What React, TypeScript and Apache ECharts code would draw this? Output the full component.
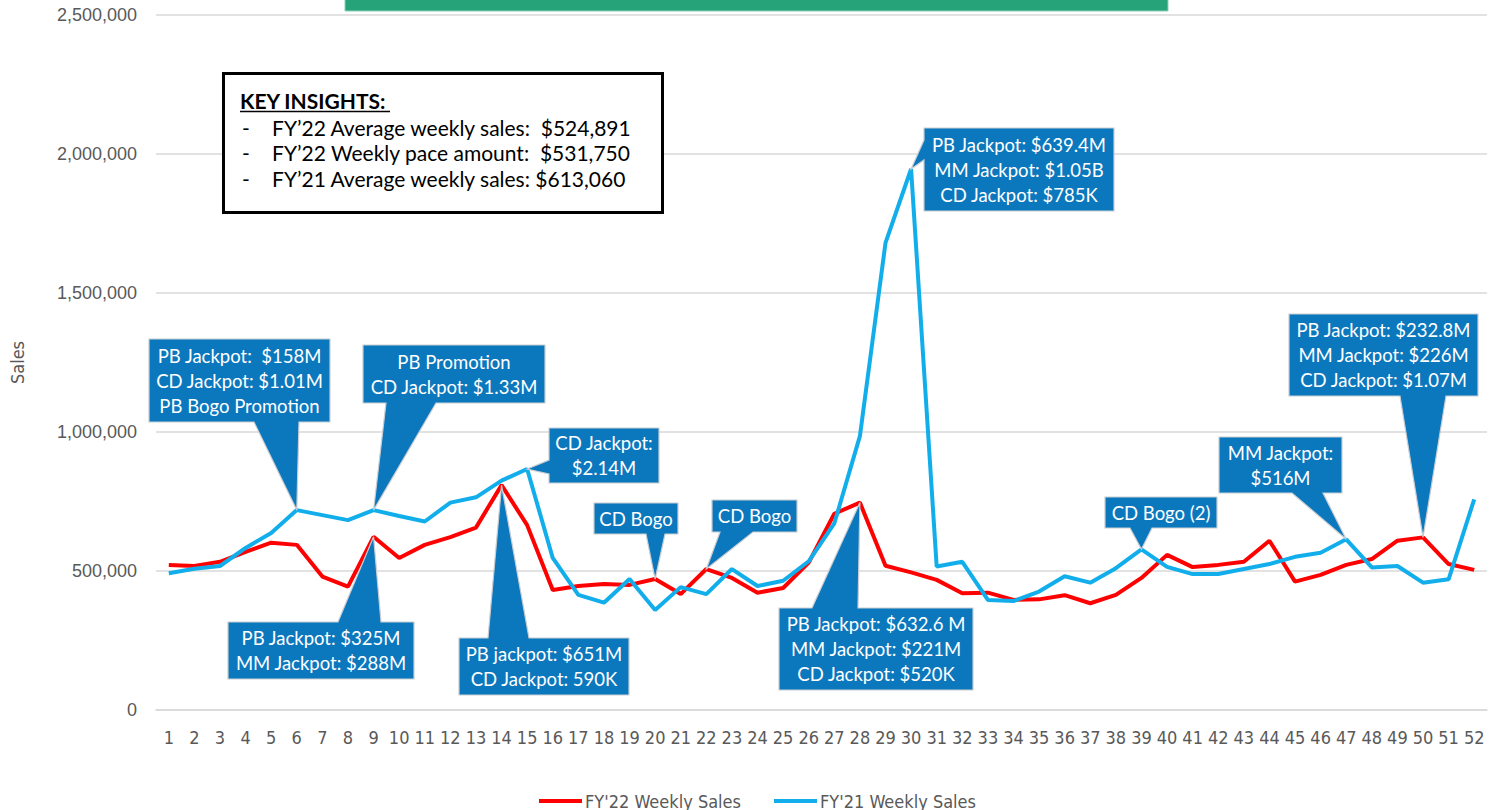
import React, { useEffect, useRef } from "react";
import * as echarts from "echarts";

// ---------- data ----------
const weeks = [
  "1", "2", "3", "4", "5", "6", "7", "8", "9", "10", "11", "12", "13",
  "14", "15", "16", "17", "18", "19", "20", "21", "22", "23", "24", "25", "26",
  "27", "28", "29", "30", "31", "32", "33", "34", "35", "36", "37", "38", "39",
  "40", "41", "42", "43", "44", "45", "46", "47", "48", "49", "50", "51", "52",
];

const fy22Sales = [
  522000, 518000, 533000, 569000, 602000, 594000, 480000, 444000, 623000, 547000,
  594000, 622000, 656000, 809000, 665000, 432000, 446000, 453000, 450000, 471000,
  417000, 507000, 475000, 422000, 439000, 530000, 706000, 746000, 519000, 495000,
  468000, 420000, 422000, 396000, 398000, 413000, 384000, 414000, 475000, 558000,
  514000, 522000, 533000, 609000, 462000, 486000, 522000, 543000, 609000, 621000,
  525000, 504000,
];

const fy21Sales = [
  492000, 508000, 518000, 583000, 637000, 719000, 701000, 683000, 719000, 698000,
  678000, 746000, 765000, 825000, 867000, 547000, 414000, 386000, 471000, 360000,
  442000, 417000, 507000, 446000, 465000, 535000, 671000, 985000, 1680000, 1946000,
  516000, 533000, 396000, 392000, 426000, 481000, 458000, 510000, 578000, 515000,
  489000, 489000, 507000, 525000, 551000, 566000, 614000, 513000, 518000, 458000,
  470000, 758000,
];

const seriesNames = ["FY'22 Weekly Sales", "FY'21 Weekly Sales"];

const insightTitle = "KEY INSIGHTS:";
const insightLines = [
  "FY\u201922 Average weekly sales:  $524,891",
  "FY\u201922 Weekly pace amount:  $531,750",
  "FY\u201921 Average weekly sales: $613,060",
];

// callout texts and the data point each one points to (series index, week)
const calloutTexts = [
  ["PB Jackpot:  $158M", "CD Jackpot: $1.01M", "PB Bogo Promotion"],
  ["PB Promotion", "CD Jackpot: $1.33M"],
  ["CD Jackpot:", "$2.14M"],
  ["CD Bogo"],
  ["CD Bogo"],
  ["PB Jackpot: $325M", "MM Jackpot: $288M"],
  ["PB jackpot: $651M", "CD Jackpot: 590K"],
  ["PB Jackpot: $632.6 M", "MM Jackpot: $221M", "CD Jackpot: $520K"],
  ["PB Jackpot: $639.4M", "MM Jackpot: $1.05B", "CD Jackpot: $785K"],
  ["CD Bogo (2)"],
  ["MM Jackpot:", "$516M"],
  ["PB Jackpot: $232.8M", "MM Jackpot: $226M", "CD Jackpot: $1.07M"],
];
const calloutAnchors: [number, number][] = [
  [1, 6], [1, 9], [1, 15], [0, 20], [0, 22], [0, 9], [0, 14], [0, 28], [1, 30], [1, 39], [1, 47], [0, 50],
];

// ---------- layout (pixels) ----------
type Box = { x1: number; y1: number; x2: number; y2: number; edge: "top" | "bottom" | "left"; b1: number; b2: number };
const calloutBoxes: Box[] = [
  { x1: 149, y1: 339, x2: 330, y2: 422, edge: "bottom", b1: 254, b2: 299 },
  { x1: 363, y1: 345, x2: 545, y2: 403, edge: "bottom", b1: 386, b2: 436 },
  { x1: 549, y1: 428, x2: 659, y2: 483, edge: "left", b1: 460, b2: 474 },
  { x1: 594, y1: 503, x2: 678, y2: 534, edge: "bottom", b1: 646, b2: 665 },
  { x1: 712, y1: 500, x2: 797, y2: 532, edge: "bottom", b1: 720, b2: 753 },
  { x1: 228, y1: 622, x2: 414, y2: 679, edge: "top", b1: 338, b2: 381 },
  { x1: 459, y1: 638, x2: 629, y2: 695, edge: "top", b1: 488, b2: 529 },
  { x1: 779, y1: 608, x2: 973, y2: 690, edge: "top", b1: 812, b2: 858 },
  { x1: 924, y1: 128, x2: 1114, y2: 211, edge: "left", b1: 140, b2: 160 },
  { x1: 1105, y1: 497, x2: 1217, y2: 528, edge: "bottom", b1: 1130, b2: 1152 },
  { x1: 1219, y1: 437, x2: 1342, y2: 493, edge: "bottom", b1: 1292, b2: 1323 },
  { x1: 1289, y1: 314, x2: 1478, y2: 396, edge: "bottom", b1: 1400, b2: 1446 },
];

const CALLOUT_FILL = "#0B78BE";
const CALLOUT_STROKE = "#C9CDD2";
const AXIS_TEXT = "#595959";
const NARROW = "'Liberation Sans Narrow', 'DejaVu Sans Condensed', 'Roboto Condensed', Roboto, sans-serif";
const BOX_FONT = "Lato, 'Open Sans', sans-serif";

function calloutPoints(b: Box, tx: number, ty: number): number[][] {
  const { x1, y1, x2, y2, edge, b1, b2 } = b;
  if (edge === "bottom") {
    return [[x1, y1], [x2, y1], [x2, y2], [b2, y2], [tx, ty], [b1, y2], [x1, y2]];
  }
  if (edge === "top") {
    return [[x1, y1], [b1, y1], [tx, ty], [b2, y1], [x2, y1], [x2, y2], [x1, y2]];
  }
  return [[x1, y1], [x2, y1], [x2, y2], [x1, y2], [x1, b2], [tx, ty], [x1, b1]];
}

export default function App() {
  const ref = useRef<HTMLDivElement>(null);

  useEffect(() => {
    if (!ref.current) return;
    const chart = echarts.init(ref.current, undefined, { renderer: "svg" });
    const allData = [fy22Sales, fy21Sales];

    chart.setOption({
      animation: false,
      backgroundColor: "#ffffff",
      grid: { left: 155, right: 11, top: 15, bottom: 100, containLabel: false },
      legend: {
        data: seriesNames,
        left: 534,
        top: 787,
        icon: "rect",
        itemWidth: 43,
        itemHeight: 4,
        itemGap: 33,
        textStyle: { color: AXIS_TEXT, fontSize: 18, fontFamily: NARROW, padding: [0, 0, 0, -2] },
      },
      xAxis: {
        type: "category",
        data: weeks,
        boundaryGap: true,
        axisLine: { show: true, lineStyle: { color: "#D9D9D9", width: 1.5 } },
        axisTick: { show: false },
        axisLabel: { interval: 0, color: AXIS_TEXT, fontSize: 18, fontFamily: NARROW, margin: 18 },
      },
      yAxis: {
        type: "value",
        min: 0,
        max: 2500000,
        interval: 500000,
        name: "Sales",
        nameLocation: "middle",
        nameGap: 130,
        nameRotate: 90,
        nameTextStyle: { color: AXIS_TEXT, fontSize: 18, fontFamily: NARROW },
        axisLine: { show: false },
        axisTick: { show: false },
        splitLine: { lineStyle: { color: "#D9D9D9", width: 1.5 } },
        axisLabel: {
          color: AXIS_TEXT,
          fontSize: 18,
          fontFamily: "'Liberation Sans', Arial, sans-serif",
          margin: 19,
          formatter: (v: number) => v.toLocaleString("en-US"),
        },
      },
      series: [
        {
          name: seriesNames[0],
          type: "line",
          data: fy22Sales,
          symbol: "none",
          lineStyle: { color: "#FF0000", width: 4 },
          itemStyle: { color: "#FF0000" },
          z: 2,
        },
        {
          name: seriesNames[1],
          type: "line",
          data: fy21Sales,
          symbol: "none",
          lineStyle: { color: "#12AEEB", width: 4 },
          itemStyle: { color: "#12AEEB" },
          z: 3,
        },
      ],
    });

    const graphics: any[] = [];

    // title banner (cut off at top of page)
    graphics.push({
      type: "rect",
      shape: { x: 345, y: -40, width: 823, height: 51 },
      style: { fill: "#27A37A", stroke: "#8FD0B8", lineWidth: 1 },
      z: 10,
    });

    // key insights box
    graphics.push({
      type: "rect",
      shape: { x: 223.5, y: 73.5, width: 439, height: 139 },
      style: { fill: "#ffffff", stroke: "#000000", lineWidth: 3 },
      z: 10,
    });
    graphics.push({
      type: "text",
      x: 240,
      y: 100,
      style: {
        text: insightTitle,
        fill: "#000",
        font: "bold 21px " + BOX_FONT,
        verticalAlign: "middle",
        align: "left",
      },
      z: 11,
    });
    graphics.push({
      type: "line",
      shape: { x1: 240, y1: 111.5, x2: 390, y2: 111.5 },
      style: { stroke: "#000", lineWidth: 1.5 },
      z: 11,
    });
    insightLines.forEach((t, i) => {
      const cy = 127 + i * 25.7;
      graphics.push({
        type: "text",
        x: 242,
        y: cy,
        style: { text: "-", fill: "#000", font: "21px " + BOX_FONT, verticalAlign: "middle" },
        z: 11,
      });
      graphics.push({
        type: "text",
        x: 272,
        y: cy,
        style: { text: t, fill: "#000", font: "21px " + BOX_FONT, verticalAlign: "middle" },
        z: 11,
      });
    });

    // callouts
    calloutTexts.forEach((lines, i) => {
      const [s, w] = calloutAnchors[i];
      const p = chart.convertToPixel({ seriesIndex: s }, [w - 1, allData[s][w - 1]]) as number[];
      const b = calloutBoxes[i];
      graphics.push({
        type: "polygon",
        shape: { points: calloutPoints(b, p[0], p[1]) },
        style: { fill: CALLOUT_FILL, stroke: CALLOUT_STROKE, lineWidth: 1.2, lineJoin: "miter" },
        z: 20,
      });
      graphics.push({
        type: "text",
        x: (b.x1 + b.x2) / 2,
        y: (b.y1 + b.y2) / 2,
        style: {
          text: lines.join("\n"),
          fill: "#ffffff",
          font: "18.5px " + BOX_FONT,
          lineHeight: 25,
          align: "center",
          verticalAlign: "middle",
        },
        z: 21,
      });
    });

    chart.setOption({ graphic: graphics });

    return () => chart.dispose();
  }, []);

  return (
    <div
      ref={ref}
      style={{ position: "fixed", left: 0, top: 0, width: 1498, height: 810, background: "#fff" }}
    />
  );
}
